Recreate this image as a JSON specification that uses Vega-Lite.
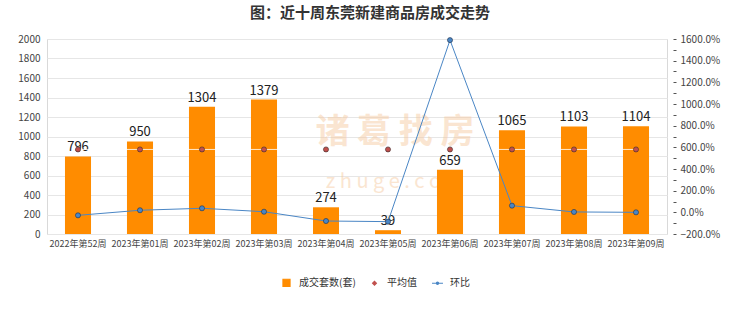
{
  "$schema": "https://vega.github.io/schema/vega-lite/v6.json",
  "autosize": "none",
  "width": 620,
  "height": 195,
  "padding": {"left": 47, "top": 39, "right": 73, "bottom": 78},
  "background": "white",
  "config": {
    "font": "Noto Sans CJK SC",
    "view": {"stroke": "#d9d9d9"},
    "axis": {"labelColor": "#333", "labelFont": "Noto Sans CJK SC"}
  },
  "title": {
    "text": "图：近十周东莞新建商品房成交走势",
    "fontSize": 15,
    "fontWeight": "bold",
    "color": "#333",
    "anchor": "middle",
    "frame": "group",
    "dx": 13,
    "offset": 13
  },
  "data": {
    "values": [
      {"week": "2022年第52周", "count": 796, "avg": 867.3, "ratio": -0.277},
      {"week": "2023年第01周", "count": 950, "avg": 867.3, "ratio": 0.193},
      {"week": "2023年第02周", "count": 1304, "avg": 867.3, "ratio": 0.373},
      {"week": "2023年第03周", "count": 1379, "avg": 867.3, "ratio": 0.058},
      {"week": "2023年第04周", "count": 274, "avg": 867.3, "ratio": -0.801},
      {"week": "2023年第05周", "count": 39, "avg": 867.3, "ratio": -0.858},
      {"week": "2023年第06周", "count": 659, "avg": 867.3, "ratio": 15.897},
      {"week": "2023年第07周", "count": 1065, "avg": 867.3, "ratio": 0.617},
      {"week": "2023年第08周", "count": 1103, "avg": 867.3, "ratio": 0.036},
      {"week": "2023年第09周", "count": 1104, "avg": 867.3, "ratio": 0.001}
    ]
  },
  "encoding": {
    "x": {
      "field": "week",
      "type": "nominal",
      "sort": null,
      "title": null,
      "scale": {
        "domain": ["2022年第52周", "2023年第01周", "2023年第02周", "2023年第03周", "2023年第04周", "2023年第05周", "2023年第06周", "2023年第07周", "2023年第08周", "2023年第09周"],
        "paddingInner": 0.58,
        "paddingOuter": 0.29
      },
      "axis": {"labelAngle": 0, "labelFontSize": 9, "domain": false, "ticks": false, "labelPadding": 5, "labelColor": "#444"}
    }
  },
  "layer": [
    {
      "encoding": {
        "y": {
          "field": "count",
          "type": "quantitative",
          "title": null,
          "scale": {"domain": [0, 2000], "nice": false},
          "axis": {"values": [0,200,400,600,800,1000,1200,1400,1600,1800,2000], "format": "d", "domain": false, "ticks": false, "labelPadding": 7, "labelFontSize": 10, "gridColor": "#e6e6e6", "labelColor": "#444"}
        }
      },
      "layer": [
        {
          "mark": {"type": "text", "fontSize": 34, "color": "#f6c79a", "opacity": 0.45, "fontWeight": "bold"},
          "encoding": {
            "x": {"datum": "2023年第05周"},
            "y": {"datum": 1035},
            "text": {"value": "诸 葛 找 房"},
            "xOffset": {"value": 20}
          },
          "transform": [{"filter": "datum.week === '2023年第05周'"}]
        },
        {
          "mark": {"type": "text", "fontSize": 20, "color": "#f6c79a", "opacity": 0.45},
          "encoding": {
            "x": {"datum": "2023年第05周"},
            "y": {"datum": 535},
            "text": {"value": "z  h  u  g  e  .  c  o  m"},
            "xOffset": {"value": 20}
          },
          "transform": [{"filter": "datum.week === '2023年第05周'"}]
        },
        {
          "mark": {"type": "bar"},
          "encoding": {
            "color": {
              "datum": "成交套数(套)",
              "scale": {"domain": ["成交套数(套)", "平均值", "环比"], "range": ["#FF8C00", "#C0504D", "#4A86C5"]},
              "legend": {
                "title": null,
                "orient": "none",
                "direction": "horizontal",
                "legendX": 233,
                "legendY": 237,
                "labelFontSize": 10,
                "labelColor": "#333",
                "symbolSize": 50,
                "columnPadding": 12,
                "labelOffset": 6,
                "encode": {
                  "symbols": {
                    "update": {
                      "shape": {"signal": "datum.value === '成交套数(套)' ? 'square' : datum.value === '平均值' ? 'diamond' : 'M-1,0L1,0M-0.2,0A0.2,0.2,0,1,1,0.2,0A0.2,0.2,0,1,1,-0.2,0'"},
                      "size": {"signal": "datum.value === '成交套数(套)' ? 50 : datum.value === '平均值' ? 14 : 120"},
                      "fill": {"signal": "datum.value === '成交套数(套)' ? '#FF8C00' : datum.value === '平均值' ? '#C0504D' : '#4A86C5'"},
                      "stroke": {"signal": "datum.value === '环比' ? '#4A86C5' : 'transparent'"},
                      "strokeWidth": {"value": 1.2},
                      "opacity": {"value": 1}
                    }
                  }
                }
              }
            }
          }
        },
        {
          "mark": {"type": "text", "fontSize": 13, "color": "#222", "dy": -9},
          "encoding": {"text": {"field": "count", "type": "quantitative"}}
        },
        {
          "mark": {"type": "line", "color": "white", "strokeWidth": 1, "opacity": 0.8},
          "encoding": {"y": {"field": "avg", "type": "quantitative"}}
        },
        {
          "mark": {"type": "point", "filled": true, "size": 26, "stroke": "#3a2a2a", "strokeWidth": 0.6, "opacity": 1},
          "encoding": {
            "y": {"field": "avg", "type": "quantitative"},
            "color": {"datum": "平均值"}
          }
        }
      ]
    },
    {
      "encoding": {
        "y": {
          "field": "ratio",
          "type": "quantitative",
          "title": null,
          "scale": {"domain": [-2, 16], "nice": false},
          "axis": {
            "orient": "right",
            "values": [-2,-1,0,1,2,3,4,5,6,7,8,9,10,11,12,13,14,15,16],
            "labelExpr": "datum.value % 2 === 0 ? format(datum.value, '.1%') : ''",
            "grid": false,
            "domain": false,
            "offset": 6,
            "tickSize": 3,
            "tickColor": "#555",
            "labelPadding": 4,
            "labelFontSize": 10,
            "labelColor": "#444"
          }
        }
      },
      "layer": [
        {
          "mark": {"type": "line", "strokeWidth": 1},
          "encoding": {"color": {"datum": "环比"}}
        },
        {
          "mark": {"type": "point", "filled": true, "size": 26, "stroke": "#1f2f4a", "strokeWidth": 0.6, "opacity": 1},
          "encoding": {"color": {"datum": "环比"}}
        }
      ]
    }
  ],
  "resolve": {"scale": {"y": "independent"}}
}
